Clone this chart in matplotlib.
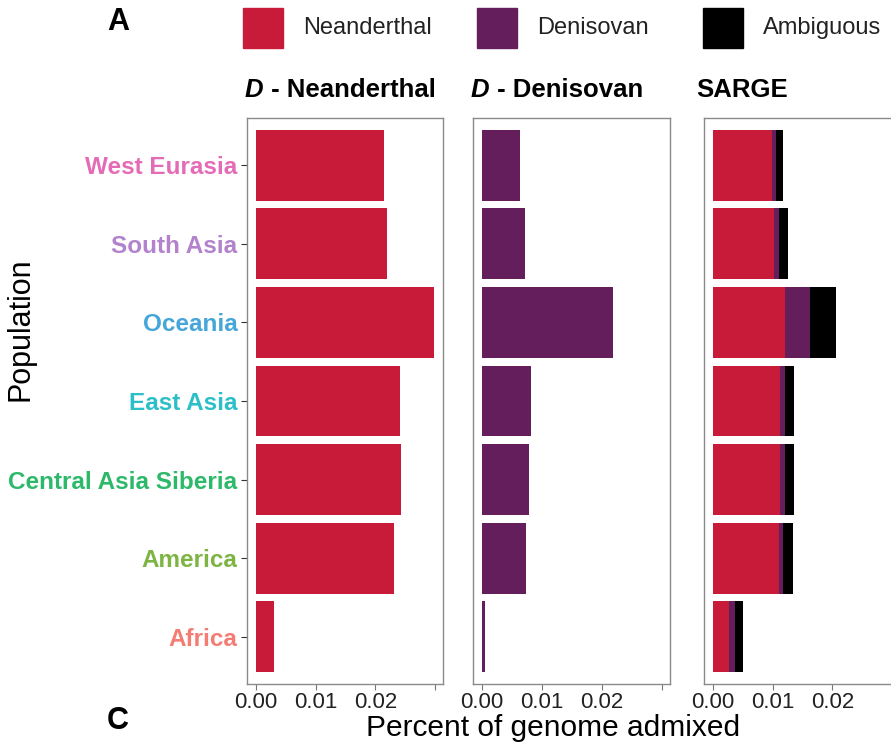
import matplotlib.pyplot as plt
from matplotlib.patches import Rectangle

plt.rcParams['font.family'] = ['Liberation Sans', 'DejaVu Sans']

# populations, top to bottom
populations = ["West Eurasia", "South Asia", "Oceania", "East Asia",
               "Central Asia Siberia", "America", "Africa"]
pop_colors = ["#E46BB6", "#B283CC", "#45A6D9", "#2CBFC9",
              "#2DB86A", "#7DB443", "#F47D73"]

# D-statistic based estimates
d_neanderthal = [0.0214, 0.0220, 0.0298, 0.0241, 0.0243, 0.0231, 0.0031]
d_denisovan = [0.0063, 0.0072, 0.0218, 0.0082, 0.0078, 0.0073, 0.0005]

# SARGE segments, stacked
sarge_neanderthal = [0.0098, 0.0102, 0.0121, 0.0112, 0.0113, 0.0111, 0.0027]
sarge_denisovan = [0.0007, 0.0009, 0.0042, 0.0009, 0.0008, 0.0007, 0.0010]
sarge_ambiguous = [0.0012, 0.0015, 0.0043, 0.0015, 0.0014, 0.0016, 0.0014]

red = "#C81B3A"
purple = "#631E5B"
black = "#000000"

fig = plt.figure(figsize=(8.91, 7.45), dpi=100)

W, H = 891, 745
def px_axes(x0, x1, y0, y1):
    return fig.add_axes([x0 / W, 1 - y1 / H, (x1 - x0) / W, (y1 - y0) / H])

ax1 = px_axes(247, 443, 118, 684)
ax2 = px_axes(473, 670, 118, 684)
ax3 = px_axes(704, 900, 118, 684)

ypos = list(range(len(populations)))
bh = 0.9

ax1.barh(ypos, d_neanderthal, height=bh, color=red)
ax2.barh(ypos, d_denisovan, height=bh, color=purple)

left2 = [a + b for a, b in zip(sarge_neanderthal, sarge_denisovan)]
ax3.barh(ypos, sarge_neanderthal, height=bh, color=red)
ax3.barh(ypos, sarge_denisovan, left=sarge_neanderthal, height=bh, color=purple)
ax3.barh(ypos, sarge_ambiguous, left=left2, height=bh, color=black)

tsize = 18.5
titles = ["Neanderthal", "Denisovan", None]
for ax, t in zip([ax1, ax2, ax3], titles):
    ax.set_xlim(-0.0015, 0.0313)
    ax.set_ylim(len(populations) - 0.4, -0.6)
    ax.set_xticks([0, 0.01, 0.02, 0.03])
    ax.set_xticklabels(["0.00", "0.01", "0.02", ""])
    ax.tick_params(axis='x', length=4, color="#777777", labelsize=16,
                   labelcolor="#222222", pad=1.5)
    for s in ax.spines.values():
        s.set_color("#8a8a8a")
        s.set_linewidth(1.0)
    if t is not None:
        d = ax.text(-0.01, 1.05, "D", transform=ax.transAxes, fontsize=tsize,
                    fontweight='bold', fontstyle='italic', va='center', ha='left')
        ax.annotate(" - " + t, xy=(1, 0), xycoords=d, fontsize=tsize,
                    fontweight='bold', va='bottom', ha='left')
    else:
        ax.text(-0.04, 1.05, "SARGE", transform=ax.transAxes, fontsize=tsize,
                fontweight='bold', va='center', ha='left')

ax1.set_yticks(ypos)
ax1.set_yticklabels(populations, fontsize=17.5, fontweight='bold')
for lab, c in zip(ax1.get_yticklabels(), pop_colors):
    lab.set_color(c)
ax1.tick_params(axis='y', length=4, color="#333333", pad=3)
for ax in [ax2, ax3]:
    ax.set_yticks([])

fig.text(20 / W, 1 - 329 / H, "Population", fontsize=22, rotation=90,
         ha='center', va='center')
fig.text(553 / W, 1 - 736 / H, "Percent of genome admixed", fontsize=21.5,
         ha='center', va='baseline')

# panel letters
fig.text(107 / W, 1 - 22 / H, "A", fontsize=22, fontweight='bold', va='center')
fig.text(107 / W, 1 - 721 / H, "C", fontsize=22, fontweight='bold', va='center')

# legend keys
keys = [("Neanderthal", red, 243), ("Denisovan", purple, 477), ("Ambiguous", black, 703)]
for name, c, x0 in keys:
    fig.patches.append(Rectangle((x0 / W, 1 - 48 / H), 40 / W, 40 / H,
                                 transform=fig.transFigure, color=c))
    fig.text((x0 + 60) / W, 1 - 28 / H, name, fontsize=17, va='center',
             color="#222222")

fig.savefig("out.png", dpi=100)
